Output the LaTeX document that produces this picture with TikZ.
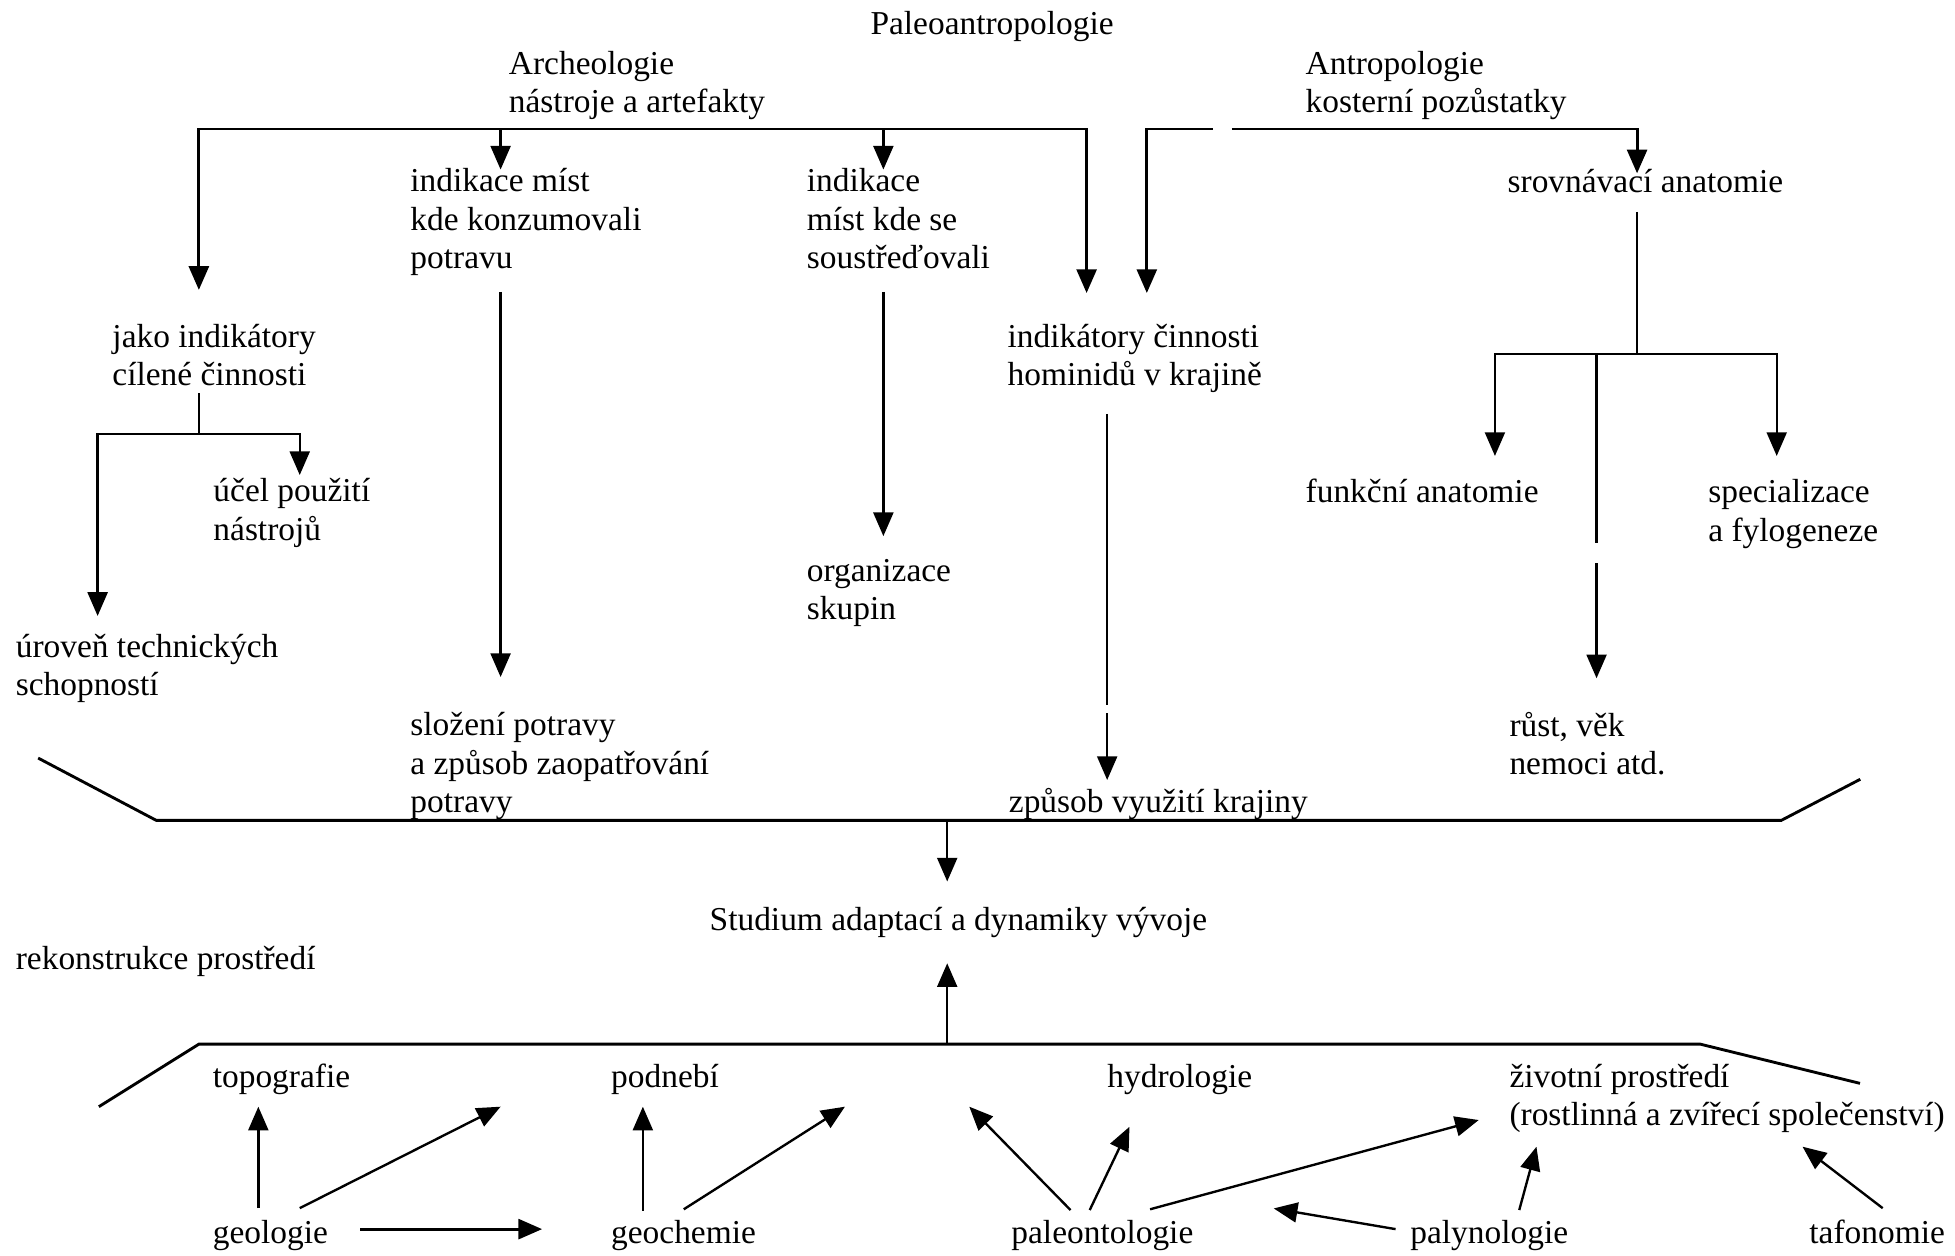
\documentclass[tikz,border=0pt]{standalone}
\usepackage{fontspec}
\setmainfont{Liberation Serif}
\usetikzlibrary{arrows.meta}
\newcommand{\twol}[2]{\vtop{\hbox{#1}\hbox{#2}}}
\newcommand{\threel}[3]{\vtop{\hbox{#1}\hbox{#2}\hbox{#3}}}
\begin{document}
\begin{tikzpicture}[x=1pt,y=-1pt,
  txt/.style={anchor=base west, inner sep=0pt, font=\fontsize{26.8}{31}\selectfont},
  ln/.style={line width=1.9pt},
  thk/.style={line width=2.3pt},
  >={Triangle[length=19pt,width=16pt]}]
\useasboundingbox[fill=white] (0,0) rectangle (1568,1006.6);

% ---------- texts ----------
\node[txt] (paleo) at (698,28) {Paleoantropologie};
\node[txt] (arch) at (408,59.5) {\twol{Archeologie}{nástroje a artefakty}};
\node[txt] (antr) at (1047,59.5) {\twol{Antropologie}{kosterní pozůstatky}};
\node[txt] (konz) at (329,153.5) {\threel{indikace míst}{kde konzumovali}{potravu}};
\node[txt] (sous) at (647,153.5) {\threel{indikace}{míst kde se}{soustřeďovali}};
\node[txt] (srov) at (1209,154) {srovnávací anatomie};
\node[txt] (jako) at (90,278.5) {\twol{jako indikátory}{cílené činnosti}};
\node[txt] (indc) at (808,278.5) {\twol{indikátory činnosti}{hominidů v krajině}};
\node[txt] (ucel) at (171,402.5) {\twol{účel použití}{nástrojů}};
\node[txt] (funk) at (1047,403) {funkční anatomie};
\node[txt] (spec) at (1370,403) {\twol{specializace}{a fylogeneze}};
\node[txt] (orga) at (647,466) {\twol{organizace}{skupin}};
\node[txt] (urov) at (12.5,527) {\twol{úroveň technických}{schopností}};
\node[txt] (sloz) at (329,590) {\threel{složení potravy}{a způsob zaopatřování}{potravy}};
\node[txt] (rust) at (1210.5,590.5) {\twol{růst, věk}{nemoci atd.}};
\node[txt] (zpus) at (809,652) {způsob využití krajiny};
\node[txt] (stud) at (569,746.5) {Studium adaptací a dynamiky vývoje};
\node[txt] (reko) at (12.5,777.5) {rekonstrukce prostředí};
\node[txt] (topo) at (170.5,872) {topografie};
\node[txt] (podn) at (490,872) {podnebí};
\node[txt] (hydr) at (888,872) {hydrologie};
\node[txt] (ziv)  at (1210.5,872) {\twol{životní prostředí}{(rostlinná a zvířecí společenství)}};
\node[txt] (geol) at (170.5,997) {geologie};
\node[txt] (geoc) at (490,997) {geochemie};
\node[txt] (pale) at (811,997) {paleontologie};
\node[txt] (paly) at (1131,997) {palynologie};
\node[txt] (tafo) at (1451,997) {tafonomie};

% ---------- coordinates ----------
\coordinate (aLt) at (159.5,232.5);
\coordinate (aL)  at (159.5,103.5);
\coordinate (aR)  at (871.5,103.5);
\coordinate (aRt) at (871.5,235);
\coordinate (aK)  at (401.5,103.5);
\coordinate (aKt) at (401.5,136);
\coordinate (aS)  at (708.5,103.5);
\coordinate (aSt) at (708.5,136);
\coordinate (bG)  at (972.5,103.5);
\coordinate (bL)  at (919.8,103.5);
\coordinate (bLt) at (919.8,235);
\coordinate (bG2) at (988,103.5);
\coordinate (bR)  at (1313,103.5);
\coordinate (bRt) at (1313,139);

% ---------- top brackets ----------
\draw[thk,<->] (aLt) -- (aL) -- (aR) -- (aRt);
\draw[ln,->] (aK) -- (aKt);
\draw[ln,->] (aS) -- (aSt);
\draw[thk,->] (bG) -- (bL) -- (bLt);
\draw[thk,->] (bG2) -- (bR) -- (bRt);

% ---------- middle connectors ----------
\draw[ln,->] (401.5,234) -- (401.5,543);
\draw[ln,->] (708.5,234) -- (708.5,430);
\draw[ln] (159.5,315.5) -- (159.5,348);
\draw[ln,<->] (78.3,494) -- (78.3,348) -- (240.4,348) -- (240.4,381);
\draw[ln] (888,332) -- (888,565.5);
\draw[ln,->] (888,572) -- (888,625.6);
\draw[ln] (1313,170) -- (1313,284);
\draw[ln,<->] (1199,365.7) -- (1199,284) -- (1425,284) -- (1425,365.7);
\draw[ln] (1280.5,284) -- (1280.5,435.6);
\draw[ln,->] (1280.5,451.7) -- (1280.5,544);

% ---------- trapezoids and central arrows ----------
\coordinate (tA) at (30.6,608);
\coordinate (tB) at (125.4,658);
\coordinate (tC) at (1428.6,658);
\coordinate (tD) at (1492,625);
\draw[thk] (tA) -- (tB) -- (tC) -- (tD);
\draw[ln,->] (759.7,658) -- (759.7,707);
\draw[ln,->] (759.7,838) -- (759.7,772.6);
\coordinate (uA) at (79.3,887.6);
\coordinate (uB) at (159.6,837.4);
\coordinate (uC) at (1363.5,837.4);
\coordinate (uD) at (1491.8,868.9);
\draw[thk] (uA) -- (uB) -- (uC) -- (uD);

% ---------- bottom arrows ----------
\draw[ln,->] (207.2,969) -- (207.2,887.6);
\draw[ln,->] (240.4,969) -- (401.5,887.6);
\draw[thk,->] (289,985.8) -- (434.8,985.8);
\draw[ln,->] (515.6,971) -- (515.6,887.6);
\draw[ln,->] (548.4,969.9) -- (677.7,887.6);
\draw[ln,->] (858.6,970.5) -- (777.4,887.6);
\draw[ln,->] (874,970.5) -- (905.9,903.7);
\draw[ln,->] (922.4,969.9) -- (1186,898.3);
\draw[ln,->] (1119.3,985.8) -- (1021.6,969.2);
\draw[ln,->] (1218.5,970.5) -- (1232.3,919.7);
\draw[ln,->] (1510,969) -- (1445.7,919.7);
\end{tikzpicture}
\end{document}
